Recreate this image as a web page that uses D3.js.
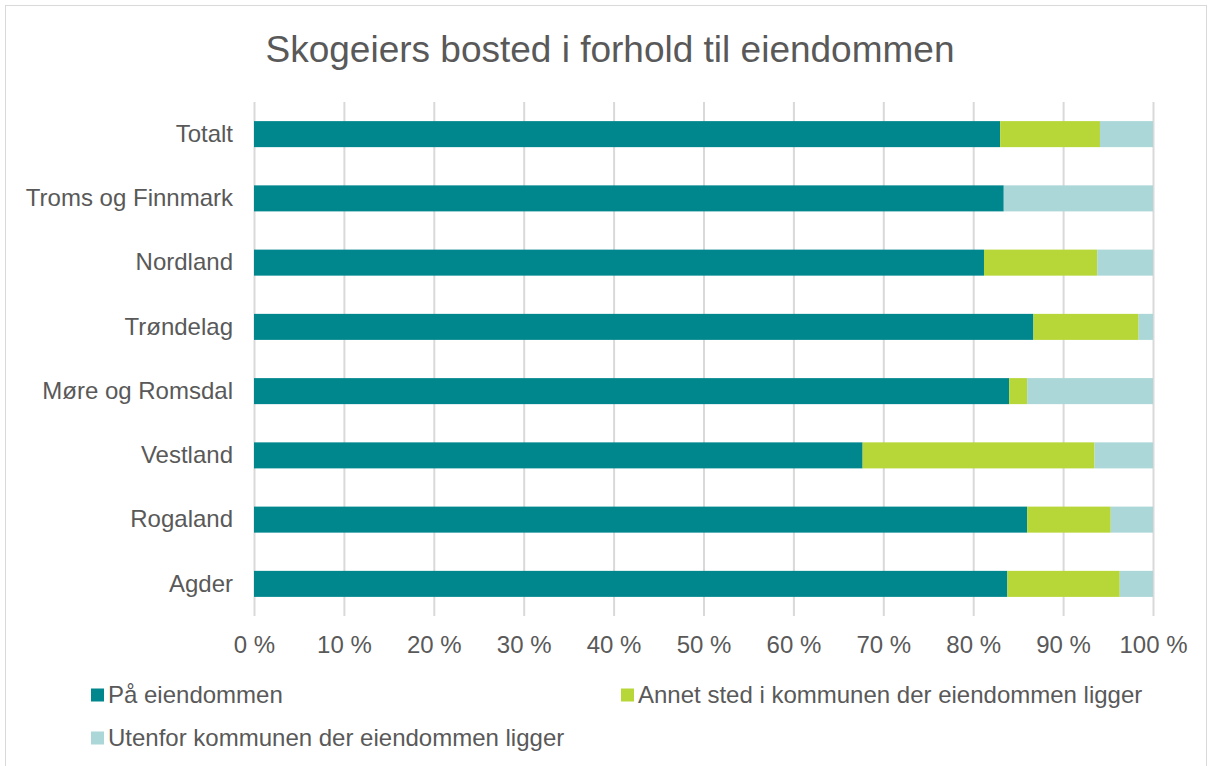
<!DOCTYPE html>
<meta charset="utf-8">
<style>
body { margin: 0; background: #fff; font-family: "Liberation Sans", Arial, Helvetica, sans-serif; }
.axis text { fill: #595959; font-size: 24px; font-family: "Liberation Sans", Arial, sans-serif; }
.grid line { stroke: #d9d9d9; stroke-width: 2px; }
.legend text { fill: #595959; font-size: 24px; }
</style>
<body>
<script src="https://d3js.org/d3.v7.min.js"></script>
<script>

// chart data (percent)
var categories = ["Totalt", "Troms og Finnmark", "Nordland", "Trøndelag",
                  "Møre og Romsdal", "Vestland", "Rogaland", "Agder"];
var paaEiendommen = [83.0, 83.4, 81.2, 86.7, 84.0, 67.7, 86.0, 83.8];
var annetSted     = [11.1, 0.0, 12.6, 11.7, 2.0, 25.8, 9.3, 12.5];
var utenfor       = [5.9, 16.6, 6.2, 1.6, 14.0, 6.5, 4.7, 3.7];
var seriesNames = ["På eiendommen",
                   "Annet sted i kommunen der eiendommen ligger",
                   "Utenfor kommunen der eiendommen ligger"];
var xTicks = [0, 10, 20, 30, 40, 50, 60, 70, 80, 90, 100];

var colors = ["#00878d", "#b7d638", "#abd7d8"];

var W = 1213, H = 766;
var plotLeft = 254, plotRight = 1153, plotTop = 102, plotBottom = 616;

var svg = d3.select("body").append("svg")
    .attr("width", W)
    .attr("height", H);

// outer frame
svg.append("rect")
    .attr("x", 5.5).attr("y", 5.5)
    .attr("width", 1201).attr("height", 780)
    .attr("fill", "none")
    .attr("stroke", "#d9d9d9");

// title
svg.append("text")
    .attr("x", 610)
    .attr("y", 62)
    .attr("text-anchor", "middle")
    .style("font-size", "37px")
    .style("fill", "#595959")
    .text("Skogeiers bosted i forhold til eiendommen");

// build rows for stacking
var rows = categories.map(function(c, i) {
  return { cat: c, s0: paaEiendommen[i], s1: annetSted[i], s2: utenfor[i] };
});
var stacked = d3.stack().keys(["s0", "s1", "s2"])(rows);

var x = d3.scaleLinear().domain([0, 100]).range([plotLeft, plotRight]);
var y = d3.scaleBand().domain(categories).range([plotTop, plotBottom])
    .paddingInner(0.595).paddingOuter(0.2975);

// gridlines
svg.append("g")
    .attr("class", "grid")
    .attr("transform", "translate(0," + plotBottom + ")")
    .call(d3.axisBottom(x).tickValues(xTicks).tickSize(-(plotBottom - plotTop)).tickFormat(""))
    .call(function(g) { g.select(".domain").remove(); });

// bars
svg.append("g").selectAll("g")
    .data(stacked)
  .enter().append("g")
    .attr("fill", function(d, i) { return colors[i]; })
  .selectAll("rect")
    .data(function(d) { return d; })
  .enter().append("rect")
    .attr("x", function(d) { return x(d[0]); })
    .attr("y", function(d) { return y(d.data.cat); })
    .attr("width", function(d) { return x(d[1]) - x(d[0]); })
    .attr("height", y.bandwidth());

// x axis labels
svg.append("g")
    .attr("class", "axis")
    .attr("transform", "translate(0," + plotBottom + ")")
    .call(d3.axisBottom(x).tickValues(xTicks).tickSize(0).tickPadding(20)
          .tickFormat(function(d) { return d + " %"; }))
    .call(function(g) { g.select(".domain").remove(); });

// category labels
svg.append("g")
    .attr("class", "axis")
    .attr("transform", "translate(" + plotLeft + ",0)")
    .call(d3.axisLeft(y).tickSize(0).tickPadding(21))
    .call(function(g) { g.select(".domain").remove(); });

// legend
var legendPos = [[91, 695], [621, 695], [91, 738]];
var legend = svg.append("g").attr("class", "legend")
  .selectAll("g")
    .data(seriesNames)
  .enter().append("g")
    .attr("transform", function(d, i) {
      return "translate(" + legendPos[i][0] + "," + legendPos[i][1] + ")";
    });
legend.append("rect")
    .attr("x", 0).attr("y", -6.5)
    .attr("width", 13).attr("height", 13)
    .attr("fill", function(d, i) { return colors[i]; });
legend.append("text")
    .attr("x", 17)
    .attr("dy", "0.35em")
    .text(function(d) { return d; });

</script>
</body>
